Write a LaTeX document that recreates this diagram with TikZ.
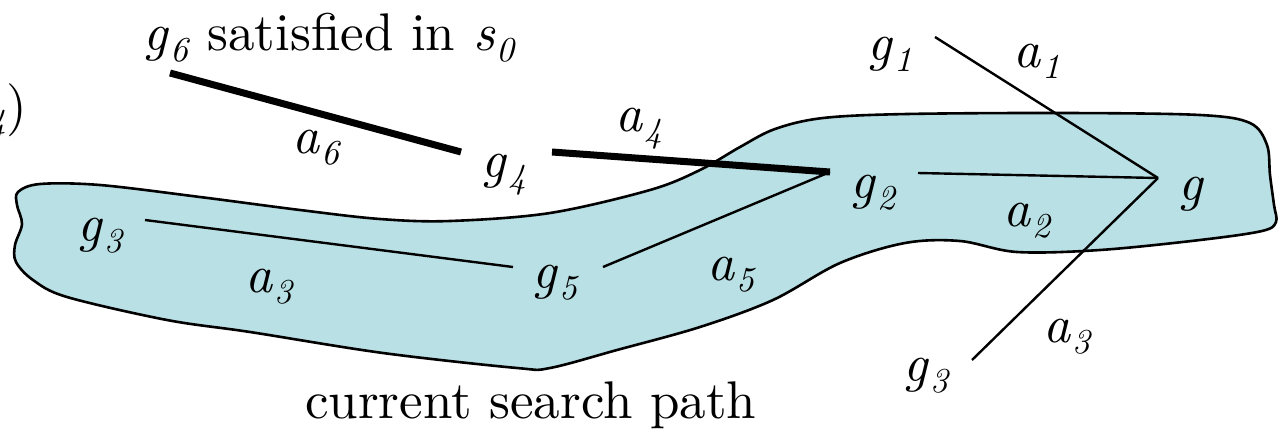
\documentclass[tikz,border=0pt]{standalone}
\usepackage{fontspec}
\IfFontExistsTF{lmroman10-regular.otf}
 {\setmainfont{lmroman10-regular.otf}[ItalicFont=lmroman10-italic.otf, BoldFont=lmroman10-bold.otf]}
 {}
\newcommand\subsz{\fontsize{35}{35}\selectfont}
\newcommand\gsub[2]{\textit{#1}\kern1pt\raisebox{-11pt}{\subsz\textit{#2}}}
\definecolor{blobc}{RGB}{185,224,228}
\begin{document}
\begin{tikzpicture}[x=1pt,y=-1pt,
  lbl/.style={inner sep=0pt, anchor=base west, font=\fontsize{53}{56}\selectfont},
  thinl/.style={line width=2.4pt},
  thickl/.style={line width=7pt},
  blob/.style={fill=blobc, draw=black, line width=2.6pt}]
\useasboundingbox (0,0) rectangle (1278,432);
\clip (0,0) rectangle (1278,432);
% search path region
\path[blob] plot[smooth cycle, tension=0.55] coordinates {
 (18,192) (40,184) (100,185) (200,197) (300,210) (380,219) (450,221) (550,213)
 (650,190) (700,170) (740,147) (775,129) (823,118) (907,114) (1067,113)
 (1200,115) (1250,123) (1267,145) (1270,175) (1274,205) (1276,222) (1262,231)
 (1200,240) (1100,250) (1017,252) (960,241) (905,243) (840,263)
 (773,300) (700,327) (617,350) (550,368) (517,368) (383,353) (250,332)
 (167,320) (67,297) (33,280) (16,262) (15,245) (22,224) (17,205)};
% connector end points
\coordinate (p6) at (170,73);
\coordinate (p4l) at (461,152);
\coordinate (p4r) at (552,152);
\coordinate (p2l) at (830,172);
\coordinate (p5r) at (603,267);
\coordinate (p5l) at (513,267);
\coordinate (p3) at (145,220);
\coordinate (p2r) at (918,173);
\coordinate (hub) at (1158,178);
\coordinate (p1) at (935,37);
\coordinate (p3b) at (972,360);
% connectors
\draw[thickl] (p6) -- (p4l);
\draw[thickl] (p4r) -- (p2l);
\draw[thinl] (p5r) -- (p2l);
\draw[thinl] (p3) -- (p5l);
\draw[thinl] (p2r) -- (hub);
\draw[thinl] (p1) -- (hub);
\draw[thinl] (hub) -- (p3b);
% labels
\node[lbl] (g6) at (143,50) {\gsub{g}{6} satisfied in \gsub{s}{0}};
\node[lbl] (a6) at (292,153) {\gsub{a}{6}};
\node[lbl] (g4) at (481,177) {\gsub{g}{4}};
\node[lbl] (a4) at (615,131) {\gsub{a}{4}};
\node[lbl] (g2) at (850,198) {\gsub{g}{2}};
\node[lbl] (a2) at (1003,226) {\gsub{a}{2}};
\node[lbl] (g) at (1178,200) {\textit{g}};
\node[lbl] (g1) at (867,60) {\gsub{g}{1}};
\node[lbl] (a1) at (1013,67) {\gsub{a}{1}};
\node[lbl] (a3b) at (1043,342) {\gsub{a}{3}};
\node[lbl] (g3b) at (903,381) {\gsub{g}{3}};
\node[lbl] (g3) at (77,241) {\gsub{g}{3}};
\node[lbl] (a3) at (245,292) {\gsub{a}{3}};
\node[lbl] (g5) at (532,288) {\gsub{g}{5}};
\node[lbl] (a5) at (707,280) {\gsub{a}{5}};
\node[lbl] (csp) at (305,418) {current search path};
\node[lbl, anchor=base east] (frag) at (27,123) {\raisebox{-10pt}{\subsz\textit{4}})};
\end{tikzpicture}
\end{document}
